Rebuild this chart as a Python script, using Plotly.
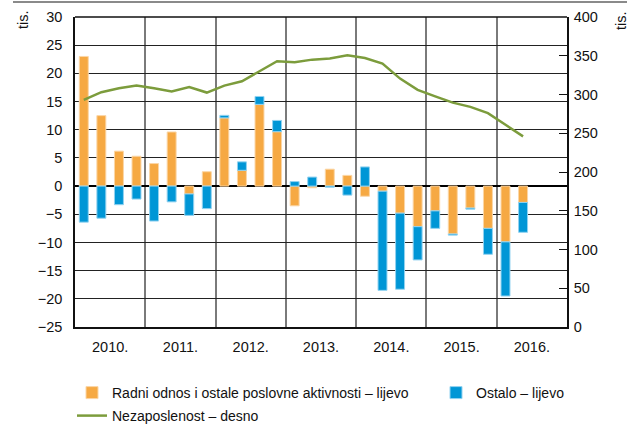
import plotly.graph_objects as go

# ---- data ----
quarters = ["2010Q1","2010Q2","2010Q3","2010Q4",
            "2011Q1","2011Q2","2011Q3","2011Q4",
            "2012Q1","2012Q2","2012Q3","2012Q4",
            "2013Q1","2013Q2","2013Q3","2013Q4",
            "2014Q1","2014Q2","2014Q3","2014Q4",
            "2015Q1","2015Q2","2015Q3","2015Q4",
            "2016Q1","2016Q2"]
radni = [23.0, 12.5, 6.2, 5.3,
         4.0, 9.6, -1.4, 2.55,
         12.1, 2.8, 14.5, 9.65,
         -3.5, -0.3, 3.0, 1.9,
         -1.8, -0.9, -4.8, -7.2,
         -4.4, -8.5, -3.9, -7.5,
         -9.9, -2.9]
ostalo = [-6.4, -5.7, -3.3, -2.3,
          -6.2, -2.8, -3.8, -4.0,
          0.45, 1.5, 1.4, 2.0,
          0.8, 1.6, -0.2, -1.6,
          3.4, -17.6, -13.5, -5.9,
          -3.1, -0.2, -0.2, -4.6,
          -9.6, -5.3]
nezaposlenost = [293, 303, 308, 311.5,
                 308, 304, 309.5, 302.5,
                 311.5, 317, 330, 343,
                 341.5, 345, 346.5, 350.5,
                 347, 340, 320.5, 306,
                 297.5, 289.5, 284, 276,
                 261, 246]
years = ["2010.", "2011.", "2012.", "2013.", "2014.", "2015.", "2016."]

labels = ["Radni odnos i ostale poslovne aktivnosti – lijevo",
          "Ostalo – lijevo",
          "Nezaposlenost – desno"]

ORANGE = "#F6A943"
BLUE = "#0096D6"
GREEN = "#7C9C3C"
FONT = "Liberation Sans, Arial, sans-serif"
W, H = 638, 425
ML, MR, MT, MB = 75, 71, 17, 98
PW, PH = W - ML - MR, H - MT - MB

x = list(range(len(quarters)))
year_centers = [4 * k + 1.5 for k in range(len(years))]

fig = go.Figure()
fig.add_trace(go.Bar(x=x, y=radni, name=labels[0], marker_color=ORANGE,
                     marker_line=dict(color="#FBD6A6", width=1), legend="legend"))
fig.add_trace(go.Bar(x=x, y=ostalo, name=labels[1], marker_color=BLUE,
                     marker_line=dict(color="#92D2F0", width=1), legend="legend2"))
fig.add_trace(go.Scatter(x=x, y=nezaposlenost, name=labels[2], yaxis="y2",
                         mode="lines", line=dict(color=GREEN, width=2.5),
                         legend="legend3"))

def leg(px, py):
    return dict(orientation="h", xref="container", yref="container",
                x=px / W, xanchor="left", y=1 - py / H, yanchor="middle",
                font=dict(family=FONT, size=14, color="#111"),
                bgcolor="rgba(0,0,0,0)")

fig.update_layout(
    width=W, height=H,
    margin=dict(l=ML, r=MR, t=MT, b=MB, autoexpand=False),
    paper_bgcolor="white", plot_bgcolor="white",
    barmode="relative", bargap=0.49,
    font=dict(family=FONT, size=14, color="#111"),
    showlegend=True,
    legend=leg(72, 393),
    legend2=leg(436, 393),
    legend3=leg(72, 416),
    xaxis=dict(range=[-0.5, len(years) * 4 - 0.5],
               tickmode="array", tickvals=year_centers, ticktext=years,
               ticks="outside", ticklen=6, tickcolor="rgba(0,0,0,0)",
               showgrid=False, zeroline=False,
               showline=True, linecolor="#111", linewidth=1.5,
               minor=dict(tick0=-0.5, dtick=4, showgrid=True,
                          gridcolor="#7a7a7a", gridwidth=1.6, ticks=""),
               tickfont=dict(size=14.5)),
    yaxis=dict(range=[-25, 30], dtick=5, showgrid=True, gridcolor="#222",
               gridwidth=1, zeroline=True, zerolinecolor="#000", zerolinewidth=1.5,
               showline=True, linecolor="#111", linewidth=1.5,
               ticks="", ticklabelstandoff=8, tickfont=dict(size=14.5)),
    yaxis2=dict(range=[0, 400], dtick=50, overlaying="y", side="right",
                showgrid=False, zeroline=False,
                showline=True, linecolor="#111", linewidth=1.5,
                ticks="inside", ticklen=8, tickcolor="#111", tickwidth=1,
                ticklabelstandoff=2, tickfont=dict(size=14.5)),
)

# top border line at 30 and decorative top rule
fig.add_shape(type="line", xref="paper", yref="paper", x0=0, x1=1, y0=1, y1=1,
              line=dict(color="#111", width=1.5))
fig.add_shape(type="line", xref="paper", yref="paper",
              x0=(13 - ML) / PW, x1=(627 - ML) / PW,
              y0=1 + (MT - 2) / PH, y1=1 + (MT - 2) / PH,
              line=dict(color="#8a8a8a", width=2))

fig.add_annotation(text="tis.", xref="paper", yref="paper",
                   x=(23 - ML) / PW, y=1 - (20 - MT) / PH, showarrow=False,
                   xanchor="center", yanchor="middle",
                   textangle=-90, font=dict(size=14.5))
fig.add_annotation(text="tis.", xref="paper", yref="paper",
                   x=(621 - ML) / PW, y=1 - (21 - MT) / PH, showarrow=False,
                   xanchor="center", yanchor="middle",
                   textangle=-90, font=dict(size=14.5))

fig.write_html("out.html", config={"displayModeBar": False},
               post_script="document.body.style.margin='0';document.body.style.overflow='hidden';")
